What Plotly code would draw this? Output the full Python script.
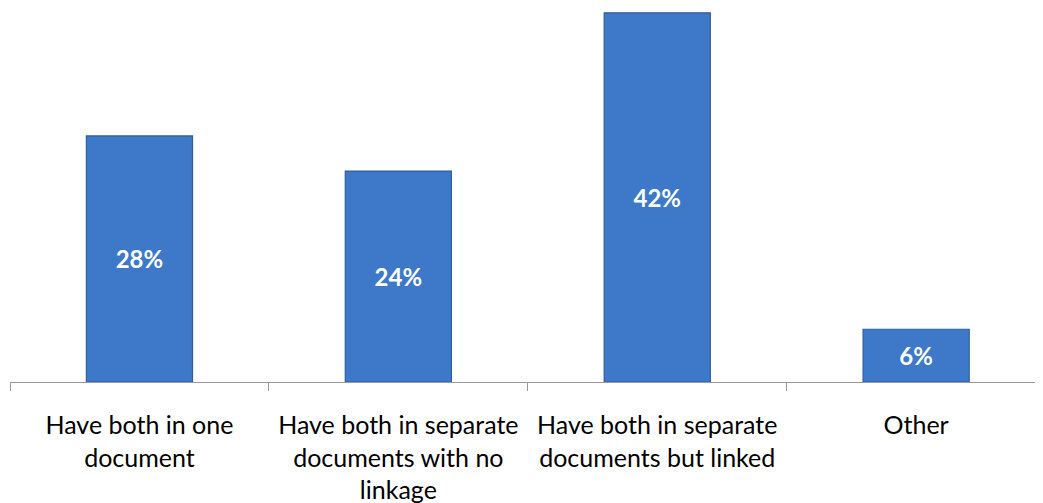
import plotly.graph_objects as go

categories = ["Have both in one<br>document",
              "Have both in separate<br>documents with no<br>linkage",
              "Have both in separate<br>documents but linked",
              "Other"]
values = [28, 24, 42, 6]
labels = ["28%", "24%", "42%", "6%"]

fig = go.Figure(go.Bar(
    x=categories, y=values, text=labels,
    textposition="inside", insidetextanchor="middle",
    textfont=dict(family="Lato", size=24, color="white", weight="bold"),
    marker=dict(color="#3D79C8", line=dict(color="#2F5E9F", width=1.2)),
    width=0.41, cliponaxis=False,
))

fig.update_layout(
    width=1035, height=495,
    margin=dict(l=2, r=0, t=0, b=121),
    paper_bgcolor="white", plot_bgcolor="white",
    showlegend=False,
    xaxis=dict(
        type="category", range=[-0.5, 3.49],
        showline=True, linecolor="#999999", linewidth=1.3,
        ticks="outside", tickson="boundaries", ticklen=8,
        tickcolor="#999999", tickwidth=1.3,
        tickfont=dict(family="Lato", size=25, color="black"),
        ticklabelstandoff=21,
        showgrid=False,
    ),
    yaxis=dict(range=[0, 42.55], visible=False, showgrid=False),
)
fig.update_traces(textangle=0)
fig.write_html("out.html")
